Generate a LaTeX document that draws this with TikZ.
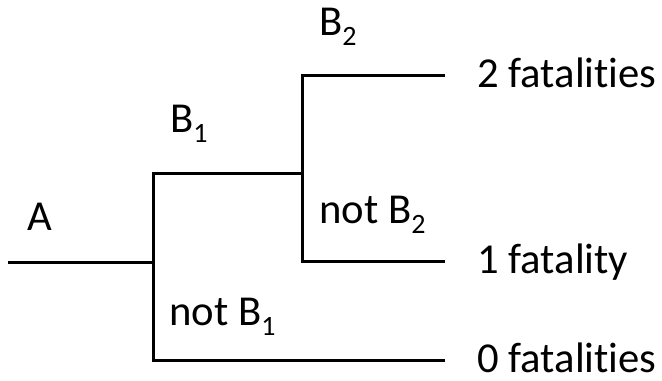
\documentclass[tikz,border=0pt]{standalone}
\usepackage{fontspec}
\setmainfont[Ligatures=NoCommon]{Carlito}
\usetikzlibrary{positioning}
\tikzset{
  branch/.style={line width=2.25pt},
  label/.style={anchor=base west,inner sep=0pt,font=\fontsize{32}{36}\selectfont},
}
\newcommand{\evsub}[1]{\raisebox{-0.24em}{\fontsize{21}{24}\selectfont #1}}

\begin{document}
\begin{tikzpicture}[x=0.75pt,y=-0.75pt]
  \useasboundingbox (0,0) rectangle (662,380);
  % junctions of the tree
  \coordinate (root) at (8,262);
  \coordinate (fork1) at (153,262);
  \coordinate (up1) at (153,173);
  \coordinate (low1) at (153,360);
  \coordinate (fork2) at (302,173);
  \coordinate (up2) at (302,75);
  \coordinate (low2) at (302,261);
  \coordinate (end2) at (445,75);
  \coordinate (end1) at (445,261);
  \coordinate (end0) at (445,360);
  % branches
  \draw[branch] (root) -- (fork1);
  \draw[branch] (fork2) -- (up1) -- (low1) -- (end0);
  \draw[branch] (end2) -- (up2) -- (low2) -- (end1);
  % events
  \node[label] (evA) at (27,230) {A};
  \node[label] (evB1) at (170,132) {B\evsub{1}};
  \node[label] (evB2) at (319,35) {B\evsub{2}};
  \node[label] (evNB2) at (319,223) {not B\evsub{2}};
  \node[label] (evNB1) at (169,325) {not B\evsub{1}};
  % outcomes
  \node[label] (out2) at (477,87) {2 fatalities};
  \node[label] (out1) at (477,273) {1 fatality};
  \node[label] (out0) at (477,372) {0 fatalities};
\end{tikzpicture}
\end{document}
